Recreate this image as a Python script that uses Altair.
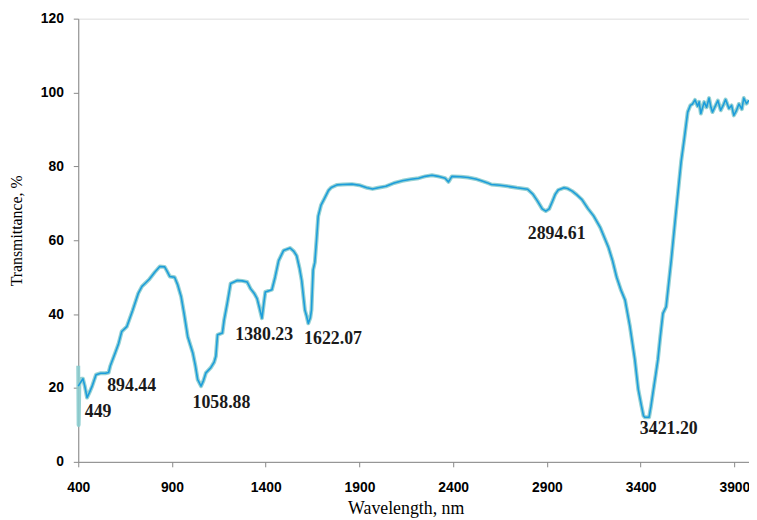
import altair as alt
import pandas as pd

# Main spectrum (blue trace)
wav = [400, 410, 425, 435, 447, 460, 474, 495, 520, 545, 562, 571, 597, 615, 632, 659, 690, 720, 740, 756,
       780, 809, 835, 861, 875, 888, 914, 930, 949, 965, 984, 1011, 1025, 1037, 1055, 1068, 1081, 1107, 1125, 1134,
       1143, 1169, 1178, 1195, 1213, 1248, 1275, 1301, 1319, 1340, 1354, 1365, 1380, 1390, 1398, 1433, 1450, 1469, 1495, 1530,
       1550, 1565, 1580, 1592, 1609, 1618, 1627, 1638, 1644, 1653, 1662, 1671, 1680, 1695, 1715, 1735, 1750, 1780, 1812, 1860,
       1900, 1940, 1970, 2000, 2041, 2085, 2129, 2175, 2216, 2250, 2287, 2320, 2357, 2375, 2393, 2440, 2480, 2520, 2551, 2580,
       2604, 2650, 2691, 2740, 2797, 2825, 2850, 2875, 2894, 2912, 2929, 2945, 2960, 2991, 3010, 3035, 3060, 3087, 3120, 3149,
       3185, 3228, 3250, 3272, 3295, 3317, 3343, 3369, 3387, 3404, 3415, 3422, 3445, 3455, 3466, 3480, 3492, 3505, 3519, 3536,
       3550, 3563, 3589, 3616, 3633, 3651, 3665, 3677, 3690, 3704, 3712, 3721, 3739, 3752, 3765, 3775, 3783, 3800, 3812, 3827,
       3840, 3853, 3871, 3885, 3897, 3910, 3924, 3940, 3950, 3965, 3978]
trans = [20.5, 21.3, 22.5, 20.5, 17.4, 18.8, 20.5, 23.6, 24.0, 24.0, 24.2, 26.0, 29.5, 32.0, 35.3, 36.6, 41.0, 45.6, 47.5, 48.3,
         49.5, 51.4, 52.9, 52.8, 51.5, 50.2, 50.0, 48.0, 44.7, 40.0, 33.9, 29.5, 26.0, 22.3, 20.5, 22.0, 24.1, 25.5, 27.0, 28.6,
         34.4, 34.9, 38.4, 43.0, 48.3, 49.1, 49.0, 48.7, 46.9, 45.5, 44.2, 42.0, 38.9, 43.0, 46.0, 46.6, 50.0, 54.5, 57.2, 57.9,
         57.0, 55.8, 52.5, 49.1, 41.1, 39.5, 37.5, 39.0, 41.1, 52.0, 54.0, 60.0, 66.5, 69.5, 71.5, 73.5, 74.3, 75.0, 75.1, 75.2,
         74.9, 74.2, 73.9, 74.2, 74.6, 75.5, 76.1, 76.5, 76.8, 77.3, 77.6, 77.3, 76.8, 75.8, 77.3, 77.2, 77.0, 76.6, 76.1, 75.6,
         75.1, 74.9, 74.6, 74.2, 73.8, 72.5, 70.6, 68.5, 67.9, 68.5, 70.5, 72.5, 73.6, 74.2, 74.0, 73.3, 72.3, 71.0, 68.5, 66.6,
         63.4, 58.1, 54.5, 50.0, 46.5, 43.8, 36.6, 27.7, 19.7, 15.2, 12.5, 12.1, 12.1, 15.0, 18.8, 23.5, 27.7, 34.0, 40.2, 42.0,
         48.5, 54.5, 67.9, 81.3, 87.6, 94.7, 96.5, 96.9, 98.0, 96.3, 97.5, 94.3, 97.4, 96.0, 98.5, 96.0, 94.7, 96.5, 97.8, 95.2,
         96.5, 98.1, 95.7, 96.5, 93.8, 95.0, 96.9, 95.5, 98.5, 97.0, 97.9]

# Shadow trace (light teal) start segment, then follows the main trace
shadow_head_wav = [400, 402, 406, 412, 418]
shadow_head_trans = [26.0, 10.0, 21.0, 22.0, 22.5]

# Peak annotations
peak_labels = ["449", "894.44", "1058.88", "1380.23", "1622.07", "2894.61", "3421.20"]
peak_x = [506, 685, 1164, 1392, 1759, 2952, 3550]
peak_y = [13.6, 20.6, 15.9, 34.4, 33.2, 61.8, 8.9]

x_ticks = [400, 900, 1400, 1900, 2400, 2900, 3400, 3900]
y_ticks = [0, 20, 40, 60, 80, 100, 120]

main_df = pd.DataFrame({"wav": wav, "trans": trans, "order": list(range(len(wav)))})
sh_w = shadow_head_wav + [w for w in wav if w > 418]
sh_t = shadow_head_trans + [t for w, t in zip(wav, trans) if w > 418]
shadow_df = pd.DataFrame({"wav": sh_w, "trans": sh_t, "order": list(range(len(sh_w)))})
ann_df = pd.DataFrame({"label": peak_labels, "wav": peak_x, "trans": peak_y})

xscale = alt.Scale(domain=[400, 3978], nice=False, zero=False)
yscale = alt.Scale(domain=[0, 120], nice=False)

xaxis = alt.Axis(values=x_ticks, format="d", grid=False, labelFont="Liberation Sans", labelFontWeight="bold",
                 labelFontSize=14, labelColor="#000000", labelPadding=14, tickSize=5,
                 tickColor="#888888", domainColor="#888888", labelFlush=False,
                 title="Wavelength, nm", titleFont="Liberation Serif", titleFontWeight="normal",
                 titleFontSize=18, titleColor="#000000", titleX=331, titleY=52,
                 titleAlign="center", titleBaseline="alphabetic", titleAnchor="start")
yaxis = alt.Axis(values=y_ticks, format="d", grid=False, labelFont="Liberation Sans", labelFontWeight="bold",
                 labelFontSize=14, labelColor="#000000", labelPadding=10, tickSize=5,
                 tickColor="#888888", domainColor="#888888",
                 title="Transmittance, %", titleFont="Liberation Serif", titleFontWeight="normal",
                 titleFontSize=16, titleColor="#000000", titleX=-62, titleY=214, titleAngle=-90,
                 titleAlign="center", titleBaseline="middle", titleAnchor="start")

shadow = alt.Chart(shadow_df).mark_line(color="#8accce", strokeWidth=4, opacity=0.9, strokeJoin="round").encode(
    x=alt.X("wav:Q", scale=xscale, axis=xaxis),
    y=alt.Y("trans:Q", scale=yscale, axis=yaxis),
    order="order:Q",
)
line = alt.Chart(main_df).mark_line(color="#1c9ddb", strokeWidth=1.6, strokeJoin="round").encode(
    x=alt.X("wav:Q", scale=xscale),
    y=alt.Y("trans:Q", scale=yscale),
    order="order:Q",
)
ann = alt.Chart(ann_df).mark_text(font="Liberation Serif", fontWeight="bold", fontSize=18,
                                  color="#1a1a1a", align="center", baseline="middle").encode(
    x=alt.X("wav:Q", scale=xscale),
    y=alt.Y("trans:Q", scale=yscale),
    text="label:N",
)

chart = alt.layer(shadow, line, ann).properties(
    width=678, height=448,
    padding={"left": 71, "top": 8, "right": 0, "bottom": 56},
    autosize=alt.AutoSizeParams(type="none"),
).configure_view(stroke=None).configure(background="white")

chart.save("out.html", embed_options={"renderer": "svg", "actions": False})
